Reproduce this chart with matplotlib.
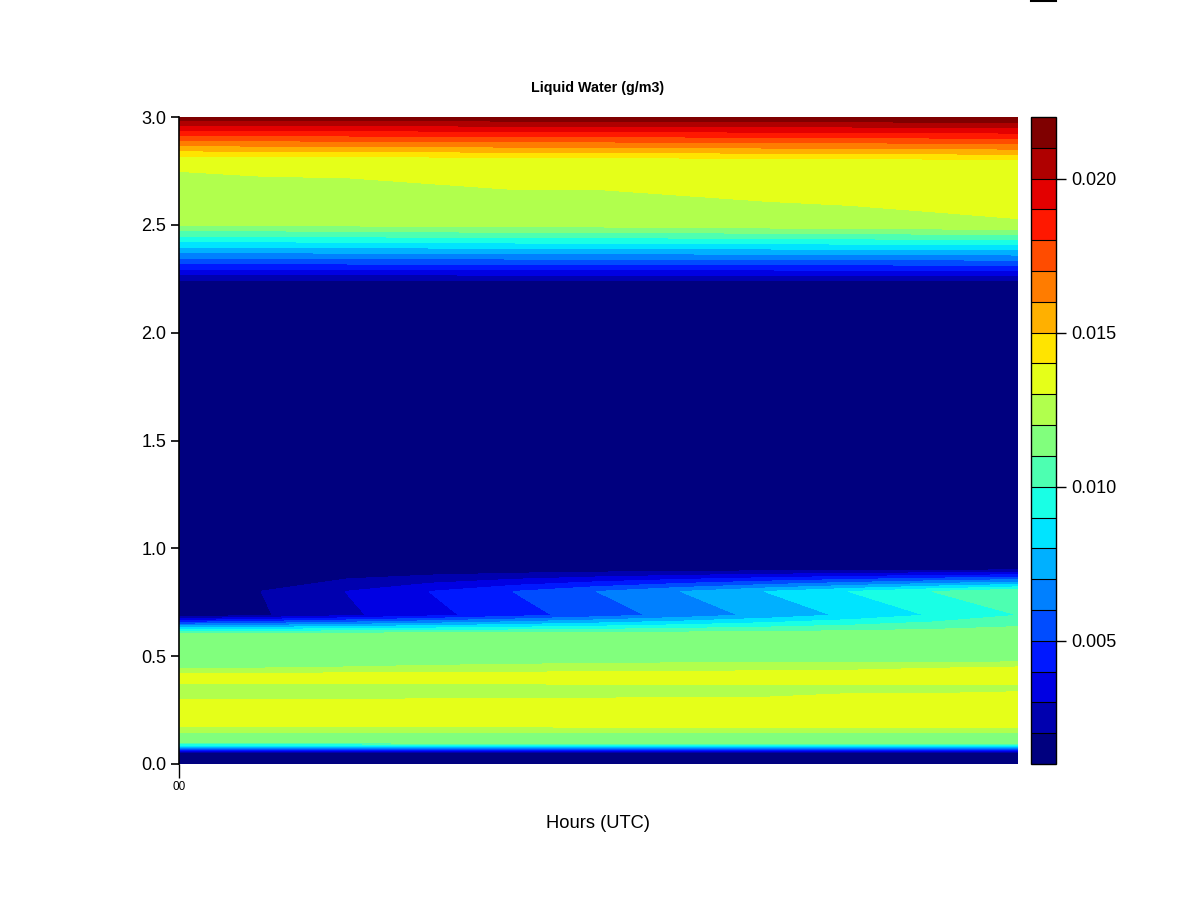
import matplotlib
matplotlib.use("Agg")
import matplotlib.pyplot as plt
import numpy as np
from matplotlib.colors import LinearSegmentedColormap
from matplotlib.lines import Line2D

plt.rcParams['font.family'] = ['Liberation Sans', 'DejaVu Sans']

# time axis (hours from 00 UTC) and height levels (km)
hours = [0, 1, 2, 3, 4, 5, 6, 7, 8, 9, 10]
heights_km = [0.00, 0.05, 0.10, 0.145, 0.175, 0.29, 0.31, 0.36, 0.385, 0.42,
              0.45, 0.48, 0.60, 0.69, 0.80, 0.91, 2.22, 2.50, 2.80, 3.00]

# liquid water (g/m3): one row per height, one column per hour
lwc = [
    [0.0011, 0.0011, 0.0011, 0.0011, 0.0011, 0.0011, 0.0011, 0.0011, 0.0011, 0.0011, 0.0011],
    [0.0011, 0.0011, 0.0011, 0.0011, 0.0011, 0.0011, 0.0011, 0.0011, 0.0011, 0.0011, 0.0011],
    [0.0115, 0.0115, 0.0115, 0.0116, 0.0116, 0.0116, 0.0116, 0.0116, 0.0117, 0.0117, 0.0117],
    [0.0119, 0.0119, 0.0119, 0.0119, 0.0119, 0.0119, 0.0119, 0.0119, 0.0119, 0.0119, 0.0119],
    [0.0131, 0.0131, 0.0131, 0.0131, 0.0131, 0.0132, 0.0132, 0.0132, 0.0132, 0.0132, 0.0132],
    [0.0132, 0.0132, 0.0132, 0.0133, 0.0133, 0.0133, 0.0134, 0.0134, 0.0134, 0.0135, 0.0135],
    [0.0127, 0.0127, 0.0128, 0.0128, 0.0129, 0.0129, 0.0130, 0.0130, 0.0131, 0.0131, 0.0132],
    [0.0127, 0.0127, 0.0127, 0.0127, 0.0127, 0.0128, 0.0128, 0.0128, 0.0128, 0.0128, 0.0128],
    [0.0133, 0.0133, 0.0133, 0.0133, 0.0133, 0.0134, 0.0134, 0.0134, 0.0134, 0.0134, 0.0134],
    [0.0130, 0.0130, 0.0131, 0.0131, 0.0132, 0.0132, 0.0132, 0.0133, 0.0133, 0.0134, 0.0134],
    [0.0117, 0.0118, 0.0120, 0.0121, 0.0122, 0.0124, 0.0125, 0.0126, 0.0127, 0.0129, 0.0130],
    [0.0117, 0.0117, 0.0117, 0.0117, 0.0117, 0.0117, 0.0117, 0.0117, 0.0117, 0.0117, 0.0117],
    [0.0117, 0.0117, 0.0117, 0.0117, 0.0117, 0.0117, 0.0117, 0.0117, 0.0117, 0.0117, 0.0117],
    [0.0011, 0.0019, 0.0028, 0.0037, 0.0046, 0.0055, 0.0064, 0.0073, 0.0082, 0.0091, 0.0100],
    [0.00102, 0.00202, 0.00302, 0.00402, 0.00502, 0.00602, 0.00702, 0.00802, 0.00902, 0.01002, 0.0109],
    [0.0011, 0.0011, 0.0011, 0.0011, 0.0011, 0.0011, 0.0011, 0.0011, 0.0011, 0.0011, 0.0011],
    [0.0011, 0.0011, 0.0011, 0.0011, 0.0011, 0.0011, 0.0011, 0.0011, 0.0011, 0.0011, 0.0011],
    [0.01205, 0.0121, 0.0122, 0.0123, 0.0124, 0.0124, 0.0125, 0.0126, 0.0127, 0.0128, 0.0129],
    [0.0132, 0.0133, 0.0133, 0.0134, 0.0135, 0.0135, 0.0136, 0.0137, 0.0137, 0.0138, 0.01395],
    [0.0216, 0.0216, 0.0217, 0.0217, 0.0218, 0.0218, 0.0218, 0.0219, 0.0219, 0.0220, 0.0220],
]

levels = np.linspace(0.001, 0.022, 22)
cbar_ticks = [0.005, 0.010, 0.015, 0.020]
x_ticks = [0]
x_tick_labels = ["00"]

# R-style "matlab like" jet ramp, 21 bands
jet_anchors = ["#00007F", "#0000FF", "#007FFF", "#00FFFF", "#7FFF7F",
               "#FFFF00", "#FF7F00", "#FF0000", "#7F0000"]
ramp = LinearSegmentedColormap.from_list("jet_r_style", jet_anchors)
band_colors = [ramp(v) for v in np.linspace(0, 1, len(levels) - 1)]

W, H = 1200, 900
fig = plt.figure(figsize=(12, 9), dpi=100)

ax = fig.add_axes([179 / W, 1 - 764 / H, 839 / W, 647 / H])
cs = ax.contourf(hours, heights_km, np.array(lwc), levels=levels, colors=band_colors)
ax.set_xlim(0, 10)
ax.set_ylim(0, 3)

for side in ["top", "right", "bottom"]:
    ax.spines[side].set_visible(False)
ax.spines["left"].set_linewidth(1.2)

ax.set_yticks(np.arange(0, 3.01, 0.5))
ax.set_yticklabels([f"{v:.1f}" for v in np.arange(0, 3.01, 0.5)])
ax.tick_params(axis="y", length=6, width=1.2, labelsize=13, pad=3)
ax.set_xticks(x_ticks)
ax.set_xticklabels(x_tick_labels)
ax.tick_params(axis="x", length=10, width=1.0, labelsize=8.5, pad=2)

fig.text(598 / W, 1 - 88 / H, "Liquid Water (g/m3)", ha="center", va="center",
         fontsize=10.3, fontweight="bold")
fig.text(598 / W, 1 - 823 / H, "Hours (UTC)", ha="center", va="center", fontsize=13.2)

cax = fig.add_axes([1031 / W, 1 - 764 / H, 25 / W, 647 / H])
cb = fig.colorbar(cs, cax=cax, drawedges=True, ticks=cbar_ticks)
cb.ax.set_yticklabels([f"{t:.3f}" for t in cbar_ticks])
cb.outline.set_linewidth(1.0)
cb.outline.set_edgecolor("black")
cb.dividers.set_color("black")
cb.dividers.set_linewidth(0.8)
cb.ax.tick_params(length=7, width=1.0, labelsize=13, pad=4)

# small stray box edge at the top right of the device
fig.add_artist(Line2D([1031 / W, 1056 / W], [1 - 0.5 / H, 1 - 0.5 / H],
                      color="black", linewidth=1.5))

fig.savefig("out.png", dpi=100)
